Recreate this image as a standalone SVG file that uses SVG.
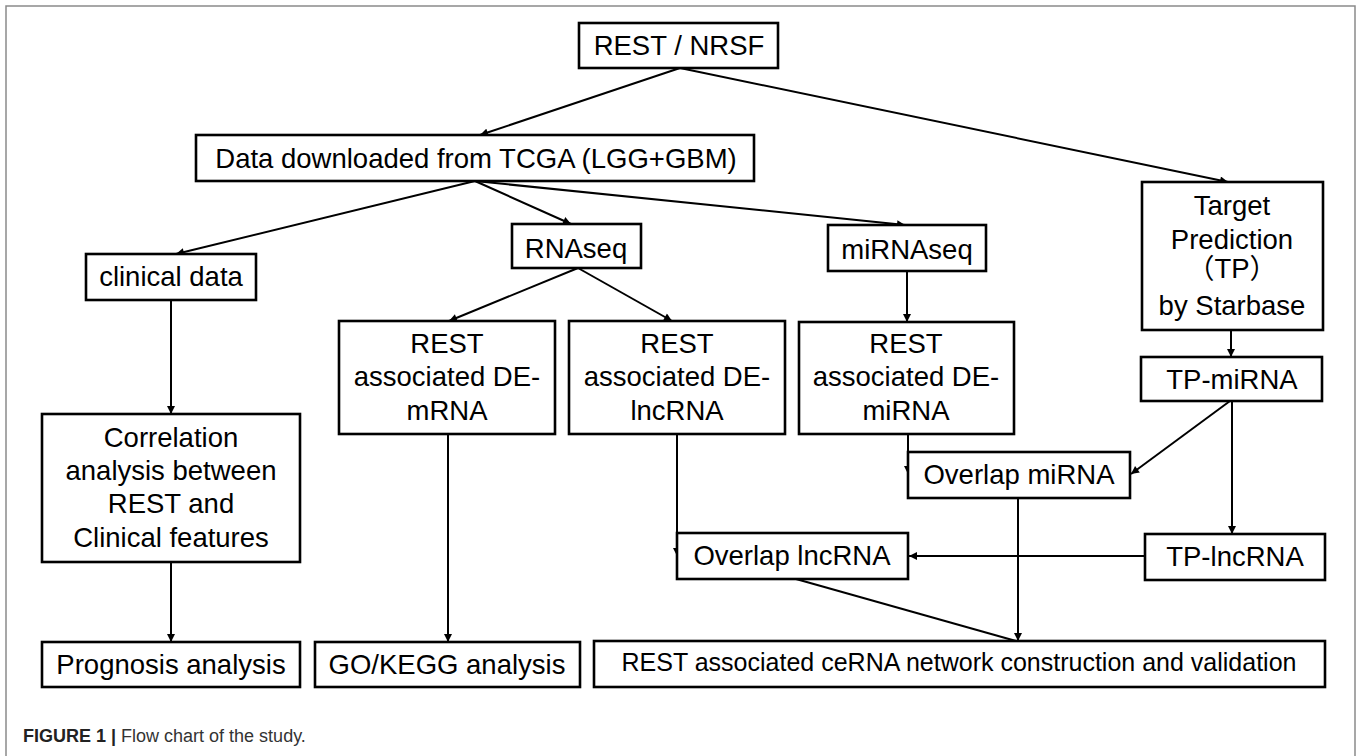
<svg xmlns="http://www.w3.org/2000/svg" width="1360" height="756" viewBox="0 0 1360 756">
<defs>
<marker id="ah" viewBox="0 0 10 10" refX="10" refY="5" markerWidth="9" markerHeight="8" markerUnits="userSpaceOnUse" orient="auto">
<path d="M0,0 L10,5 L0,10 z" fill="#000"/>
</marker>
<style>
.box{fill:#fff;stroke:#000;stroke-width:2.6}
.t{font-family:"Liberation Sans",Arial,"Noto Sans CJK SC",sans-serif;font-size:27.5px;fill:#000;text-anchor:middle}
.s{font-size:25px}
.c{fill:none;stroke:#000;stroke-width:2}
.ca{fill:none;stroke:#000;stroke-width:2;marker-end:url(#ah)}
.cap{font-family:"Liberation Sans",Arial,sans-serif;font-size:18px;fill:#333}
</style>
</defs>
<rect width="1360" height="756" fill="#fff"/>
<path d="M6,756 L6,6 L1355,6 L1355,756" fill="none" stroke="#8a8a8a" stroke-width="1.5"/>

<g id="connectors">
<line class="ca" x1="680" y1="68" x2="480" y2="135"/>
<line class="ca" x1="680" y1="68" x2="1228" y2="182"/>
<line class="ca" x1="475" y1="181" x2="176" y2="254"/>
<line class="ca" x1="475" y1="181" x2="571" y2="224"/>
<line class="ca" x1="475" y1="181" x2="905" y2="225"/>
<line class="ca" x1="578" y1="268" x2="449" y2="321"/>
<line class="ca" x1="578" y1="268" x2="672" y2="321"/>
<line class="ca" x1="907" y1="271" x2="907" y2="322"/>
<line class="ca" x1="171" y1="300" x2="171" y2="414"/>
<line class="ca" x1="1231" y1="330" x2="1231" y2="357"/>
<line class="ca" x1="1230" y1="401" x2="1131" y2="474"/>
<line class="ca" x1="1232" y1="401" x2="1232" y2="534"/>
<line class="ca" x1="908" y1="434" x2="908" y2="474"/>
<line class="ca" x1="677" y1="434" x2="677" y2="556"/>
<line class="ca" x1="448" y1="434" x2="448" y2="642"/>
<line class="ca" x1="171" y1="562" x2="171" y2="642"/>
<line class="ca" x1="1145" y1="556" x2="909" y2="556"/>
<line class="ca" x1="1018" y1="498" x2="1018" y2="641"/>
<line class="c" x1="796" y1="579" x2="1016" y2="641"/>
</g>

<g id="n-rest"><rect class="box" x="579" y="23" width="199" height="45"/><text class="t" x="679" y="55">REST / NRSF</text></g>
<g id="n-tcga"><rect class="box" x="196" y="135" width="558" height="46"/><text class="t" x="476" y="168">Data downloaded from TCGA (LGG+GBM)</text></g>
<g id="n-clinical"><rect class="box" x="86" y="254" width="170" height="46"/><text class="t" x="171" y="286">clinical data</text></g>
<g id="n-rnaseq"><rect class="box" x="512" y="224" width="129" height="44"/><text class="t" x="576" y="258">RNAseq</text></g>
<g id="n-mirnaseq"><rect class="box" x="828" y="225" width="158" height="46"/><text class="t" x="907" y="259">miRNAseq</text></g>
<g id="n-target"><rect class="box" x="1142" y="182" width="181" height="148"/><text class="t" x="1232" y="215">Target</text><text class="t" x="1232" y="249">Prediction</text><text class="t" x="1232" y="278">（TP）</text><text class="t" x="1232" y="315">by Starbase</text></g>
<g id="n-demrna"><rect class="box" x="339" y="321" width="216" height="113"/><text class="t" x="447" y="353">REST</text><text class="t" x="447" y="386">associated DE-</text><text class="t" x="447" y="420">mRNA</text></g>
<g id="n-delnc"><rect class="box" x="569" y="321" width="216" height="113"/><text class="t" x="677" y="353">REST</text><text class="t" x="677" y="386">associated DE-</text><text class="t" x="677" y="420">lncRNA</text></g>
<g id="n-demir"><rect class="box" x="799" y="322" width="215" height="112"/><text class="t" x="906" y="353">REST</text><text class="t" x="906" y="386">associated DE-</text><text class="t" x="906" y="420">miRNA</text></g>
<g id="n-tpmir"><rect class="box" x="1141" y="357" width="181" height="44"/><text class="t" x="1232" y="389">TP-miRNA</text></g>
<g id="n-ovmir"><rect class="box" x="908" y="452" width="222" height="46"/><text class="t" x="1019" y="484">Overlap miRNA</text></g>
<g id="n-corr"><rect class="box" x="42" y="414" width="258" height="148"/><text class="t" x="171" y="447">Correlation</text><text class="t" x="171" y="480">analysis between</text><text class="t" x="171" y="513">REST and</text><text class="t" x="171" y="547">Clinical features</text></g>
<g id="n-ovlnc"><rect class="box" x="677" y="533" width="231" height="46"/><text class="t" x="792" y="565">Overlap lncRNA</text></g>
<g id="n-tplnc"><rect class="box" x="1145" y="534" width="180" height="46"/><text class="t" x="1235" y="566">TP-lncRNA</text></g>
<g id="n-prog"><rect class="box" x="42" y="642" width="258" height="45"/><text class="t" x="171" y="674">Prognosis analysis</text></g>
<g id="n-go"><rect class="box" x="315" y="642" width="265" height="45"/><text class="t" x="447" y="674">GO/KEGG analysis</text></g>
<g id="n-cerna"><rect class="box" x="594" y="641" width="731" height="46"/><text class="t s" x="959" y="671">REST associated ceRNA network construction and validation</text></g>

<text class="cap" x="23" y="742"><tspan font-weight="bold" fill="#222">FIGURE 1 |</tspan> Flow chart of the study.</text>
</svg>
